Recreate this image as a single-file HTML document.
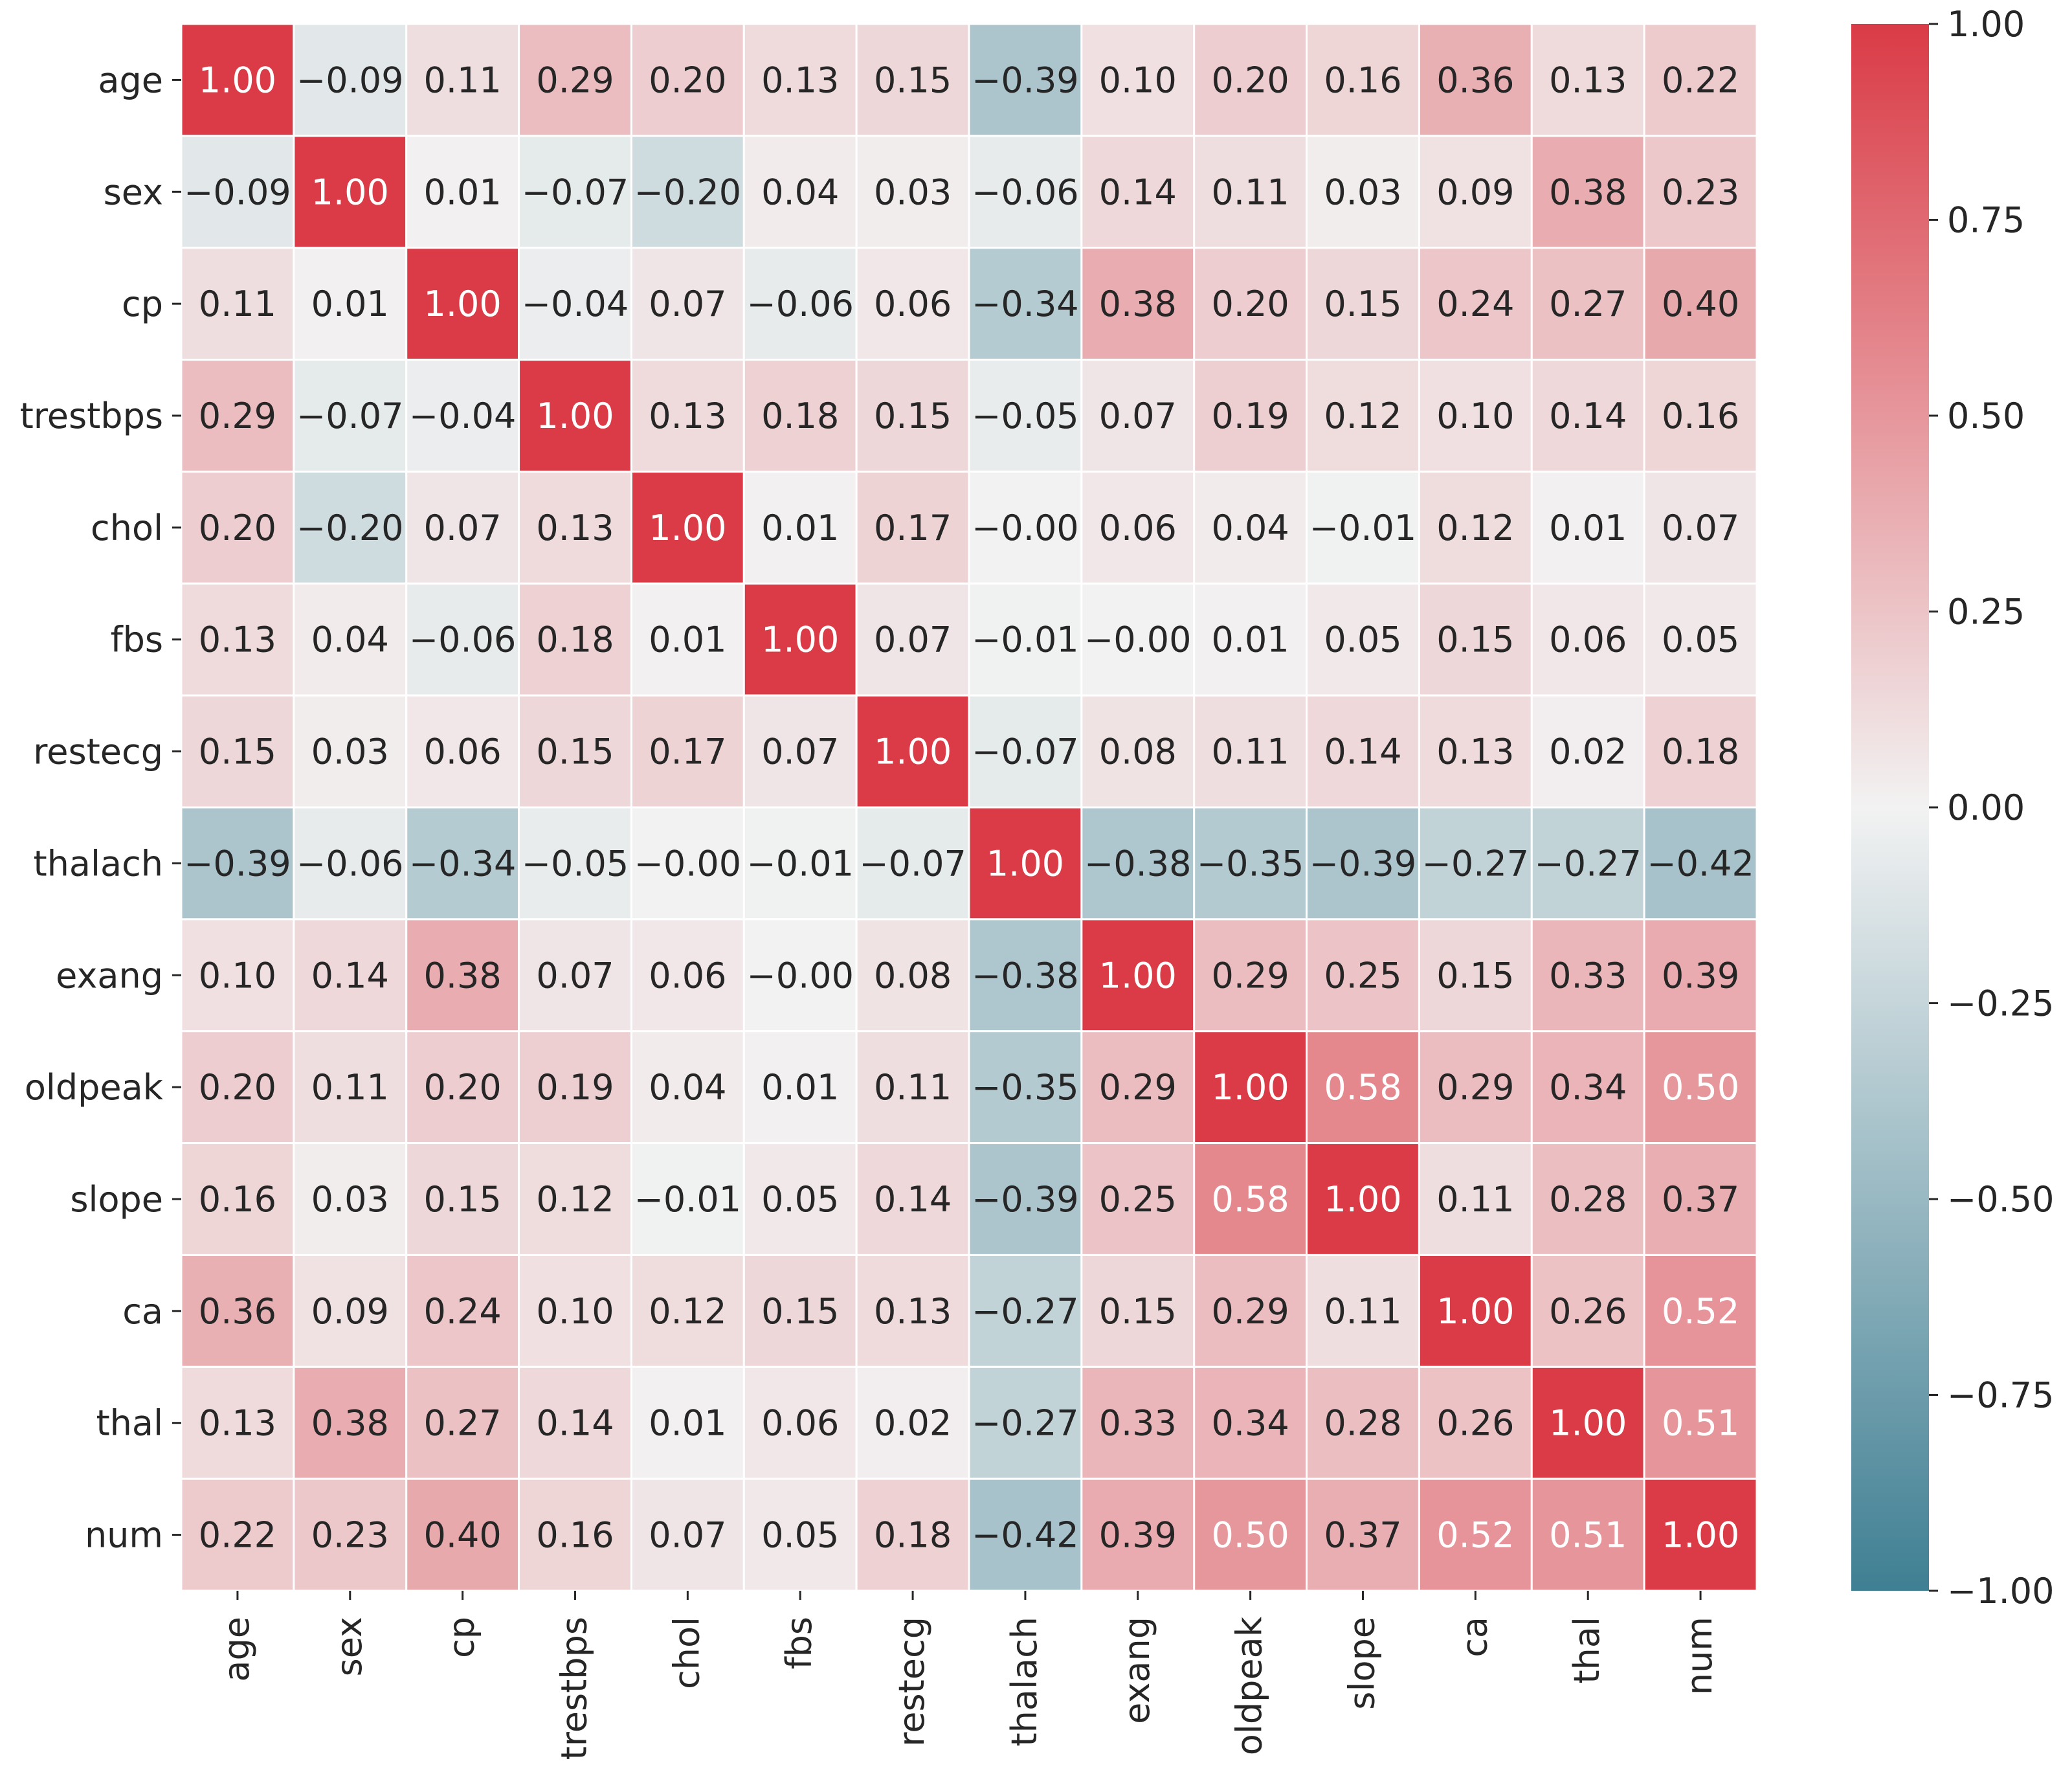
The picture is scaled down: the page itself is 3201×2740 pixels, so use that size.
<!DOCTYPE html>
<html><head><meta charset="utf-8">
<style>
html,body{margin:0;padding:0;background:#fff;}
svg{display:block;font-family:"DejaVu Sans","Liberation Sans",sans-serif;}
</style></head>
<body>
<svg id="chart" width="3201" height="2740" viewBox="0 0 3201 2740" xmlns="http://www.w3.org/2000/svg">
<defs>
<linearGradient id="cbgrad" x1="0" y1="1" x2="0" y2="0">
<stop offset="0" stop-color="#3f7f93"/>
<stop offset="0.5" stop-color="#f2f2f2"/>
<stop offset="1" stop-color="#da3b46"/>
</linearGradient>
</defs>
<g id="cells"></g>
<g id="ylab"></g>
<g id="xlab"></g>
<g id="cbar"></g>
</svg>
<script>
const labels = ["age","sex","cp","trestbps","chol","fbs","restecg","thalach","exang","oldpeak","slope","ca","thal","num"];
const rowAge      = [1.00,-0.09,0.11,0.29,0.20,0.13,0.15,-0.39,0.10,0.20,0.16,0.36,0.13,0.22];
const rowSex      = [-0.09,1.00,0.01,-0.07,-0.20,0.04,0.03,-0.06,0.14,0.11,0.03,0.09,0.38,0.23];
const rowCp       = [0.11,0.01,1.00,-0.04,0.07,-0.06,0.06,-0.34,0.38,0.20,0.15,0.24,0.27,0.40];
const rowTrestbps = [0.29,-0.07,-0.04,1.00,0.13,0.18,0.15,-0.05,0.07,0.19,0.12,0.10,0.14,0.16];
const rowChol     = [0.20,-0.20,0.07,0.13,1.00,0.01,0.17,-0.001,0.06,0.04,-0.01,0.12,0.01,0.07];
const rowFbs      = [0.13,0.04,-0.06,0.18,0.01,1.00,0.07,-0.01,-0.001,0.01,0.05,0.15,0.06,0.05];
const rowRestecg  = [0.15,0.03,0.06,0.15,0.17,0.07,1.00,-0.07,0.08,0.11,0.14,0.13,0.02,0.18];
const rowThalach  = [-0.39,-0.06,-0.34,-0.05,-0.001,-0.01,-0.07,1.00,-0.38,-0.35,-0.39,-0.27,-0.27,-0.42];
const rowExang    = [0.10,0.14,0.38,0.07,0.06,-0.001,0.08,-0.38,1.00,0.29,0.25,0.15,0.33,0.39];
const rowOldpeak  = [0.20,0.11,0.20,0.19,0.04,0.01,0.11,-0.35,0.29,1.00,0.58,0.29,0.34,0.50];
const rowSlope    = [0.16,0.03,0.15,0.12,-0.01,0.05,0.14,-0.39,0.25,0.58,1.00,0.11,0.28,0.37];
const rowCa       = [0.36,0.09,0.24,0.10,0.12,0.15,0.13,-0.27,0.15,0.29,0.11,1.00,0.26,0.52];
const rowThal     = [0.13,0.38,0.27,0.14,0.01,0.06,0.02,-0.27,0.33,0.34,0.28,0.26,1.00,0.51];
const rowNum      = [0.22,0.23,0.40,0.16,0.07,0.05,0.18,-0.42,0.39,0.50,0.37,0.52,0.51,1.00];
const matrix = [rowAge,rowSex,rowCp,rowTrestbps,rowChol,rowFbs,rowRestecg,rowThalach,rowExang,rowOldpeak,rowSlope,rowCa,rowThal,rowNum];
const cbTicks = [1.00,0.75,0.50,0.25,0.00,-0.25,-0.50,-0.75,-1.00];

const NS="http://www.w3.org/2000/svg";
const X0=280,Y0=37,X1=2714,Y1=2457;
const FS=54;
const n=labels.length, cw=(X1-X0)/n, ch=(Y1-Y0)/n;
const xPos=i=>X0+i*cw, yPos=j=>Y0+j*ch;
const CB_X=2860,CB_W=120,CB_T=37,CB_B=2457;
const cbY=v=>CB_T+(1-v)/2*(CB_B-CB_T);
const neg=[63,127,147],mid=[242,242,242],pos=[218,59,70];
function color(v){
  const a=v<0?neg:pos,t=Math.min(1,Math.abs(v));
  return `rgb(${mid.map((m,k)=>Math.round(m+(a[k]-m)*t)).join(",")})`;
}
function el(tag,attrs,parent){const e=document.createElementNS(NS,tag);for(const k in attrs)e.setAttribute(k,attrs[k]);parent.appendChild(e);return e;}
const fmt=v=>v.toFixed(2).replace("-","\u2212");

const cells=document.getElementById("cells");
matrix.forEach((row,j)=>row.forEach((v,i)=>{
  const r=el("rect",{x:xPos(i),y:yPos(j),width:cw,height:ch,fill:color(v),stroke:"#fff","stroke-width":3},cells);
  
  
  const t=el("text",{x:xPos(i)+cw/2,y:yPos(j)+ch/2+19,"text-anchor":"middle","font-size":FS,fill:v>0.45?"#ffffff":"#262626"},cells);
  t.textContent=fmt(v);
  
  
}));

const ylab=document.getElementById("ylab");
labels.forEach((l,j)=>{
  const cy=yPos(j)+ch/2;
  const tk=el("line",{x1:X0-14,x2:X0,y1:cy,y2:cy,stroke:"#262626","stroke-width":3},ylab);
  
  
  const t=el("text",{x:X0-28,y:cy+19,"text-anchor":"end","font-size":FS,fill:"#262626"},ylab);
  t.textContent=l;
  
  
});
const xlab=document.getElementById("xlab");
labels.forEach((l,i)=>{
  const cx=xPos(i)+cw/2;
  const tk=el("line",{x1:cx,x2:cx,y1:Y1,y2:Y1+14,stroke:"#262626","stroke-width":3},xlab);
  
  
  const t=el("text",{x:0,y:0,"text-anchor":"end","font-size":FS,fill:"#262626",transform:`translate(${cx+17},${Y1+40}) rotate(-90)`},xlab);
  t.textContent=l;
  
  
});

const cbar=document.getElementById("cbar");
const cb=el("rect",{x:CB_X,y:CB_T,width:CB_W,height:CB_B-CB_T,fill:"url(#cbgrad)"},cbar);


cbTicks.forEach(v=>{
  const y=cbY(v);
  const tk=el("line",{x1:CB_X+CB_W,x2:CB_X+CB_W+14,y1:y,y2:y,stroke:"#262626","stroke-width":3},cbar);
  
  
  const t=el("text",{x:CB_X+CB_W+28,y:y+19,"font-size":FS,fill:"#262626"},cbar);
  t.textContent=fmt(v);
  
  
});
</script>
</body></html>
